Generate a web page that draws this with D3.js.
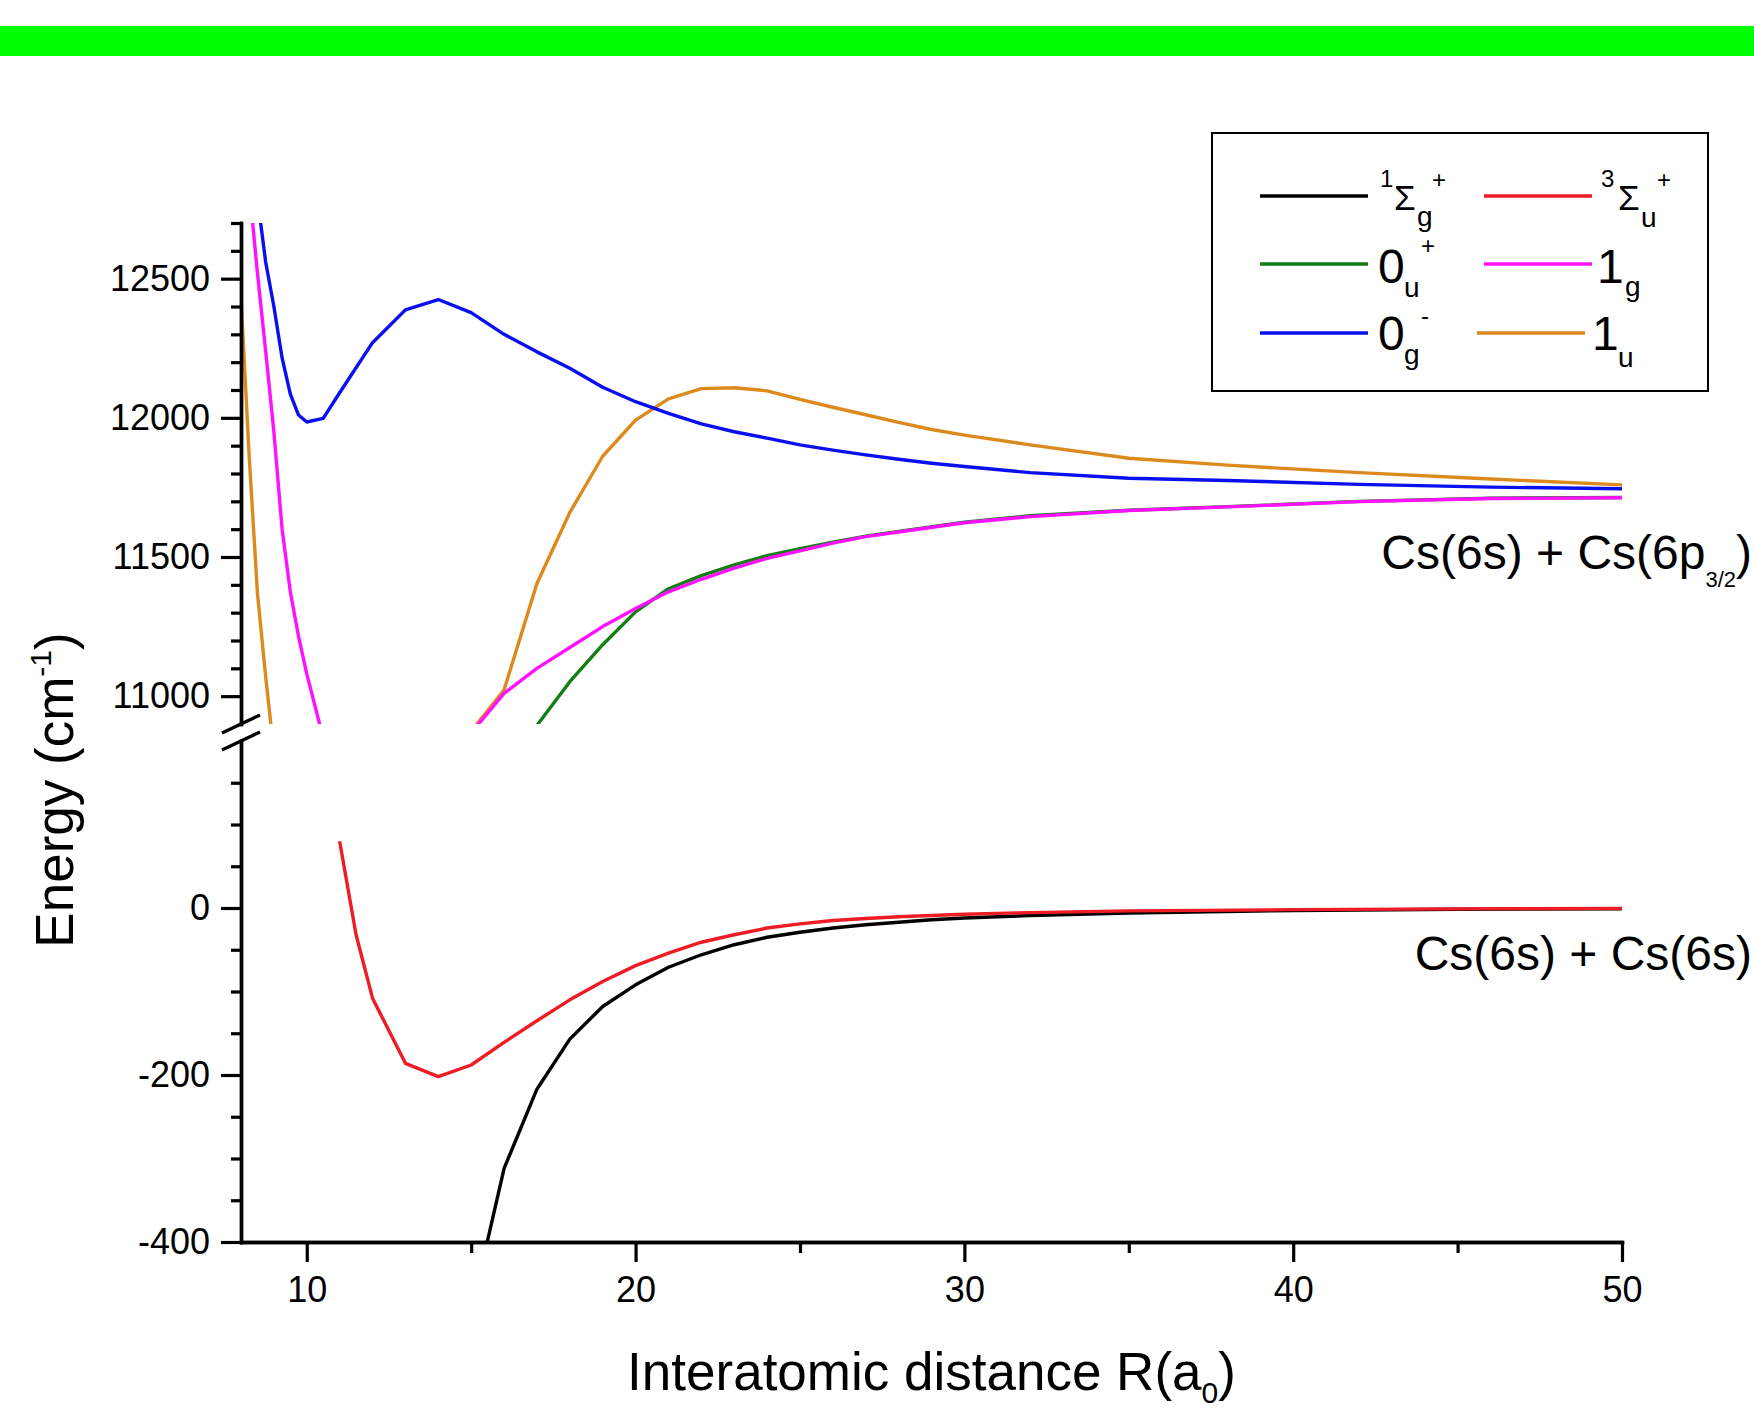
<!DOCTYPE html>
<html><head><meta charset="utf-8">
<script src="https://cdn.jsdelivr.net/npm/d3@7"></script>
<style>
body{margin:0;background:#fff}
svg{display:block}
text{font-family:"Liberation Sans",Arial,Helvetica,sans-serif;fill:#000}
</style>
</head><body>
<svg id="c" width="1754" height="1411"></svg>
<script>
// ---------------- data ----------------
const xTicks = [10, 20, 30, 40, 50];
const xMinorTicks = [15, 25, 35, 45];
const yUpperTicks = [11000, 11500, 12000, 12500];
const yLowerTicks = [-400, -200, 0];

// 1Σg+ (black)
const R_1Sg = [15, 15.5, 16, 17, 18, 19, 20, 21, 22, 23, 24, 25, 26, 27, 28, 29, 30, 32, 35, 40, 45, 50];
const E_1Sg = [-530, -398, -312, -217, -157, -118, -92, -71, -56, -44, -35, -29, -24, -20, -17, -14, -12, -9, -6, -3, -1.5, -1];
// 3Σu+ (red)
const R_3Su = [11, 11.5, 12, 13, 14, 15, 16, 17, 18, 19, 20, 21, 22, 23, 24, 25, 26, 27, 28, 30, 32, 35, 40, 45, 50];
const E_3Su = [80, -32, -108, -186, -202, -188, -161, -135, -110, -88, -69, -54, -41, -32, -24, -19, -15, -12.5, -10.5, -7.5, -5.5, -3.5, -2, -1, -0.5];
// 0u+ (green)
const R_0u = [16.5, 17, 18, 19, 20, 21, 22, 23, 24, 25, 26, 27, 28, 30, 32, 35, 38, 42, 46, 50];
const E_0u = [10795, 10895, 11052, 11185, 11303, 11386, 11433, 11472, 11505, 11530, 11553, 11575, 11592, 11625, 11648, 11668, 11681, 11700, 11711, 11714];
// 1g (magenta) – inner and outer branches (the well between them lies below the axis break)
const R_1g_in = [8.25, 8.5, 8.75, 9, 9.25, 9.5, 9.75, 10, 10.5];
const E_1g_in = [12830, 12520, 12240, 11950, 11600, 11375, 11215, 11080, 10850];
const R_1g_out = [15, 16, 17, 18, 19, 20, 21, 22, 23, 24, 25, 26, 27, 28, 30, 32, 35, 38, 42, 46, 50];
const E_1g_out = [10868, 11010, 11100, 11175, 11250, 11315, 11375, 11420, 11460, 11495, 11522, 11550, 11573, 11590, 11623, 11645, 11667, 11680, 11699, 11710, 11713];
// 0g- (blue)
const R_0g = [8.5, 8.75, 9, 9.25, 9.5, 9.75, 10, 10.5, 11, 12, 13, 14, 15, 16, 17, 18, 19, 20, 21, 22, 23, 24, 25, 26, 27, 28, 29, 30, 32, 35, 38, 42, 46, 50];
const E_0g = [12790, 12560, 12400, 12215, 12085, 12010, 11985, 11998, 12090, 12270, 12388, 12425, 12378, 12300, 12237, 12178, 12110, 12058, 12016, 11978, 11950, 11927, 11903, 11884, 11867, 11851, 11837, 11825, 11803, 11783, 11775, 11761, 11751, 11745];
// 1u (orange) – inner and outer branches
const R_1u_in = [7.9, 8, 8.25, 8.5, 8.75, 9];
const E_1u_in = [12600, 12430, 11860, 11370, 11070, 10800];
const R_1u_out = [15, 16, 17, 18, 19, 20, 21, 22, 23, 24, 25, 26, 27, 28, 29, 30, 32, 35, 38, 42, 46, 50];
const E_1u_out = [10874, 11022, 11405, 11660, 11862, 11992, 12068, 12105, 12108, 12097, 12066, 12038, 12011, 11984, 11958, 11938, 11903, 11855, 11830, 11803, 11780, 11759];

const colors = {black:"#000000", red:"#ee1c24", green:"#137f13", magenta:"#ff11ff", blue:"#0a0ff0", orange:"#dc8a1e"};

// ---------------- layout ----------------
const W = 1754, H = 1411;
const svg = d3.select("#c");
svg.append("rect").attr("width", W).attr("height", H).attr("fill", "#fff");
svg.append("rect").attr("x", 0).attr("y", 26).attr("width", W).attr("height", 30).attr("fill", "#00ff00");

const x = d3.scaleLinear().domain([8, 50]).range([241, 1622]);
const yU = d3.scaleLinear().domain([10900, 12700]).range([724, 223]);
const yL = d3.scaleLinear().domain([-400, 200]).range([1242, 741]);

const defs = svg.append("defs");
defs.append("clipPath").attr("id", "clipU").append("rect")
  .attr("x", x.range()[0]).attr("y", yU.range()[1])
  .attr("width", x.range()[1] - x.range()[0] + 3).attr("height", yU.range()[0] - yU.range()[1]);
defs.append("clipPath").attr("id", "clipL").append("rect")
  .attr("x", x.range()[0]).attr("y", yL.range()[1])
  .attr("width", x.range()[1] - x.range()[0] + 3).attr("height", yL.range()[0] - yL.range()[1]);

function zip(R, E) { return R.map((r, i) => [r, E[i]]); }

const lineU = d3.line().x(d => x(d[0])).y(d => yU(d[1]));
const lineL = d3.line().x(d => x(d[0])).y(d => yL(d[1]));

const gU = svg.append("g").attr("clip-path", "url(#clipU)");
const gL = svg.append("g").attr("clip-path", "url(#clipL)");

function draw(g, gen, R, E, col) {
  g.append("path").datum(zip(R, E)).attr("d", gen)
    .attr("fill", "none").attr("stroke", col).attr("stroke-width", 3.4)
    .attr("stroke-linejoin", "round");
}
draw(gL, lineL, R_1Sg, E_1Sg, colors.black);
draw(gL, lineL, R_3Su, E_3Su, colors.red);
draw(gU, lineU, R_1u_in, E_1u_in, colors.orange);
draw(gU, lineU, R_1u_out, E_1u_out, colors.orange);
draw(gU, lineU, R_0g, E_0g, colors.blue);
draw(gU, lineU, R_1g_in, E_1g_in, colors.magenta);
draw(gU, lineU, R_0u, E_0u, colors.green);
draw(gU, lineU, R_1g_out, E_1g_out, colors.magenta);

// ---------------- axes ----------------
function styleAxis(g) {
  g.selectAll("path.domain").attr("stroke", "#000").attr("stroke-width", 3.4).attr("stroke-linecap", "square");
  g.selectAll(".tick line").attr("stroke", "#000").attr("stroke-width", 3.2);
  g.selectAll(".tick text").attr("font-size", 36).attr("font-family", '"Liberation Sans",Arial,sans-serif').attr("fill", "#000");
}
const x0 = x.range()[0];
const upMinor = d3.range(11100, 12701, 100).filter(v => v % 500 !== 0);
const loMinor = d3.range(-350, 151, 50).filter(v => v % 200 !== 0);

const axU = svg.append("g").attr("transform", `translate(${x0},0)`)
  .call(d3.axisLeft(yU).tickValues(yUpperTicks).tickSize(20).tickSizeOuter(0).tickPadding(11).tickFormat(d3.format("d")));
styleAxis(axU);
const axUm = svg.append("g").attr("transform", `translate(${x0},0)`)
  .call(d3.axisLeft(yU).tickValues(upMinor).tickSize(10).tickSizeOuter(0).tickFormat(""));
styleAxis(axUm);

const axL = svg.append("g").attr("transform", `translate(${x0},0)`)
  .call(d3.axisLeft(yL).tickValues(yLowerTicks).tickSize(20).tickSizeOuter(0).tickPadding(11).tickFormat(d => String(d)));
styleAxis(axL);
const axLm = svg.append("g").attr("transform", `translate(${x0},0)`)
  .call(d3.axisLeft(yL).tickValues(loMinor).tickSize(10).tickSizeOuter(0).tickFormat(""));
styleAxis(axLm);

const yB = yL.range()[0];
const axX = svg.append("g").attr("transform", `translate(0,${yB})`)
  .call(d3.axisBottom(x).tickValues(xTicks).tickSize(20).tickSizeOuter(0).tickPadding(14).tickFormat(d3.format("d")));
styleAxis(axX);
axX.selectAll(".tick text").attr("dy", "0.71em");
const axXm = svg.append("g").attr("transform", `translate(0,${yB})`)
  .call(d3.axisBottom(x).tickValues(xMinorTicks).tickSize(11).tickSizeOuter(0).tickFormat(""));
styleAxis(axXm);

// axis break marks
[yU.range()[0], yL.range()[1]].forEach(yy => {
  svg.append("line").attr("x1", x0 - 19).attr("y1", yy + 9).attr("x2", x0 + 19).attr("y2", yy - 9)
    .attr("stroke", "#000").attr("stroke-width", 3.2);
});

// ---------------- titles ----------------
const xt = svg.append("text").attr("x", (x.range()[0] + x.range()[1]) / 2).attr("y", 1390)
  .attr("text-anchor", "middle").attr("font-size", 53);
xt.append("tspan").text("Interatomic distance R(a");
xt.append("tspan").attr("font-size", 30).attr("dy", 13).text("0");
xt.append("tspan").attr("dy", -13).text(")");

const yt = svg.append("text").attr("transform", "translate(73,790) rotate(-90)")
  .attr("text-anchor", "middle").attr("font-size", 53);
yt.append("tspan").text("Energy (cm");
yt.append("tspan").attr("font-size", 30).attr("dy", -22).text("-1");
yt.append("tspan").attr("dy", 22).text(")");

// asymptote labels
const a1 = svg.append("text").attr("x", 1752).attr("y", 569).attr("text-anchor", "end").attr("font-size", 48);
a1.append("tspan").text("Cs(6s) + Cs(6p");
a1.append("tspan").attr("font-size", 22).attr("dy", 18).text("3/2");
a1.append("tspan").attr("dy", -18).text(")");
svg.append("text").attr("x", 1752).attr("y", 970).attr("text-anchor", "end").attr("font-size", 48)
  .text("Cs(6s) + Cs(6s)");

// ---------------- legend ----------------
const lg = svg.append("g").attr("transform", "translate(1212,133)");
lg.append("rect").attr("x", 0).attr("y", 0).attr("width", 496).attr("height", 258)
  .attr("fill", "#fff").attr("stroke", "#000").attr("stroke-width", 2);
const legendItems = [
  {col: colors.black, lx: 48, ly: 63},
  {col: colors.red, lx: 272, ly: 63},
  {col: colors.green, lx: 48, ly: 131},
  {col: colors.magenta, lx: 272, ly: 131},
  {col: colors.blue, lx: 48, ly: 200},
  {col: colors.orange, lx: 265, ly: 200}
];
legendItems.forEach(d => {
  lg.append("line").attr("x1", d.lx).attr("x2", d.lx + 108).attr("y1", d.ly).attr("y2", d.ly)
    .attr("stroke", d.col).attr("stroke-width", 3.4);
});
function lt(xx, yy, s, fs) {
  lg.append("text").attr("x", xx).attr("y", yy).attr("font-size", fs).text(s);
}
// 1Σg+
lt(168, 54, "1", 24); lt(182, 77, "Σ", 35); lt(205, 93, "g", 28); lt(220, 55, "+", 24);
// 3Σu+
lt(389, 54, "3", 24); lt(406, 77, "Σ", 35); lt(429, 94, "u", 28); lt(445, 55, "+", 24);
// 0u+
lt(166, 150, "0", 48); lt(192, 164, "u", 28); lt(209, 121, "+", 24);
// 1g
lt(385, 150, "1", 48); lt(413, 163, "g", 28);
// 0g-
lt(166, 217, "0", 48); lt(192, 231, "g", 28); lt(209, 191, "-", 24);
// 1u
lt(380, 217, "1", 48); lt(406, 234, "u", 28);
</script>
</body></html>
